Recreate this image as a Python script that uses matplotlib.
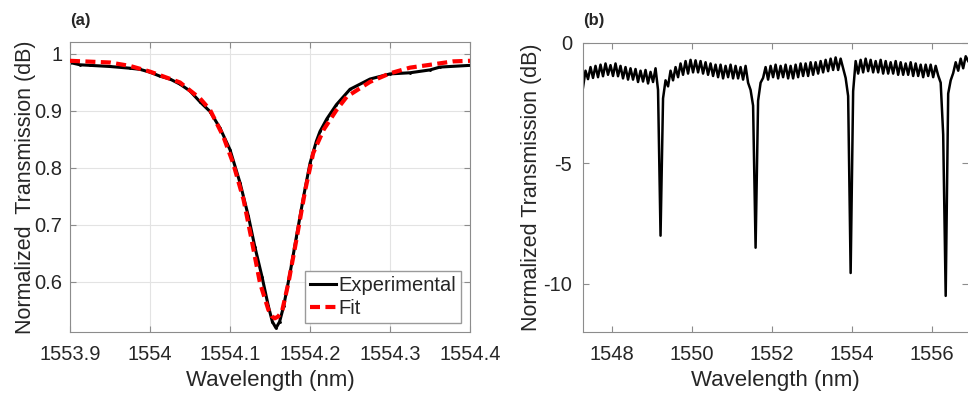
import numpy as np
import matplotlib
matplotlib.use("Agg")
import matplotlib.pyplot as plt
from matplotlib.ticker import FixedLocator, FuncFormatter

# ---------------- Panel (a) data ----------------
exp_wl = [1553.900, 1553.9125, 1553.925, 1553.950, 1553.975, 1553.9875, 1554.000,
          1554.0125, 1554.025, 1554.0375, 1554.050, 1554.0625, 1554.075, 1554.0875,
          1554.100, 1554.1125, 1554.123, 1554.131, 1554.140, 1554.148, 1554.153,
          1554.1575, 1554.162, 1554.167, 1554.175, 1554.183, 1554.192, 1554.200,
          1554.208, 1554.2125, 1554.221, 1554.233, 1554.250, 1554.275, 1554.300,
          1554.325, 1554.350, 1554.3625, 1554.400]
exp_T = [0.985, 0.981, 0.980, 0.978, 0.975, 0.973, 0.968,
         0.961, 0.956, 0.947, 0.935, 0.916, 0.899, 0.870,
         0.832, 0.774, 0.715, 0.662, 0.609, 0.557, 0.530,
         0.519, 0.530, 0.557, 0.615, 0.679, 0.750, 0.808,
         0.847, 0.864, 0.886, 0.911, 0.938, 0.956, 0.965,
         0.967, 0.972, 0.977, 0.980]

fit_wl = [1553.900, 1553.950, 1553.975, 1554.000, 1554.0375, 1554.0625, 1554.075,
          1554.0917, 1554.104, 1554.117, 1554.127, 1554.1375, 1554.148, 1554.152,
          1554.156, 1554.160, 1554.165, 1554.173, 1554.183, 1554.194, 1554.204,
          1554.217, 1554.2333, 1554.246, 1554.275, 1554.300, 1554.325, 1554.350,
          1554.379, 1554.400]
fit_T = [0.988, 0.985, 0.979, 0.969, 0.950, 0.922, 0.902,
         0.855, 0.808, 0.744, 0.674, 0.598, 0.551, 0.540,
         0.536, 0.539, 0.548, 0.598, 0.674, 0.761, 0.826,
         0.867, 0.902, 0.925, 0.951, 0.966, 0.976, 0.981,
         0.987, 0.988]

a_xticks = [1553.9, 1554.0, 1554.1, 1554.2, 1554.3, 1554.4]
a_xticklabels = ["1553.9", "1554", "1554.1", "1554.2", "1554.3", "1554.4"]
a_yticks = [0.6, 0.7, 0.8, 0.9, 1.0]
a_yticklabels = ["0.6", "0.7", "0.8", "0.9", "1"]

# ---------------- Panel (b) data ----------------
b_start, b_stop, b_count = 1547.28, 1556.905, 155
b_T = [
    -1.85, -1.15, -1.50, -1.00, -1.45, -0.95, -1.42, -0.90, -1.38, -0.85,
    -1.32, -0.92, -1.37, -0.85, -1.38, -0.95, -1.47, -1.00, -1.52, -1.05,
    -1.52, -1.08, -1.62, -1.15, -1.60, -1.12, -1.68, -1.20, -1.62, -1.05,
    -1.95, -8.00, -2.30, -1.55, -1.80, -1.15, -1.55, -1.00, -1.42, -0.85,
    -1.32, -0.75, -1.27, -0.70, -1.22, -0.72, -1.22, -0.75, -1.27, -0.80,
    -1.32, -0.85, -1.37, -0.90, -1.42, -0.90, -1.47, -0.95, -1.42, -0.90,
    -1.47, -0.95, -1.47, -1.00, -1.52, -0.95, -1.65, -1.95, -2.60, -8.50,
    -2.40, -1.65, -1.45, -1.00, -1.52, -0.95, -1.42, -0.90, -1.47, -0.95,
    -1.42, -0.90, -1.47, -0.95, -1.47, -0.90, -1.42, -0.85, -1.37, -0.85,
    -1.37, -0.80, -1.32, -0.80, -1.27, -0.75, -1.22, -0.70, -1.17, -0.65,
    -1.12, -0.60, -1.12, -0.65, -1.05, -1.45, -2.20, -9.55, -2.00, -0.75,
    -1.27, -0.70, -1.22, -0.65, -1.17, -0.70, -1.22, -0.75, -1.22, -0.70,
    -1.27, -0.75, -1.27, -0.80, -1.27, -0.75, -1.32, -0.80, -1.32, -0.85,
    -1.32, -0.80, -1.37, -0.85, -1.37, -0.90, -1.42, -0.90, -1.37, -0.90,
    -1.42, -0.95, -1.35, -1.65, -3.80, -10.50, -2.10, -1.55, -1.25, -0.80,
    -1.15, -0.65, -1.05, -0.55, -0.75,
]
b_xticks = [1548, 1550, 1552, 1554, 1556]
b_yticks = [0, -5, -10]

# ---------------- Figure ----------------
txt = "#262626"
spine_c = "#8c8c8c"
plt.rcParams["font.family"] = ["Liberation Sans", "DejaVu Sans"]

fig = plt.figure(figsize=(9.68, 3.94), dpi=100)

def style(ax, ypad):
    for s in ax.spines.values():
        s.set_color(spine_c)
        s.set_linewidth(0.8)
    ax.tick_params(direction="in", length=4, width=0.8, color=spine_c,
                   labelsize=14.5, labelcolor=txt, top=True, right=True)
    ax.tick_params(axis="x", pad=9)
    ax.tick_params(axis="y", pad=ypad)

# Panel (a)
axa = fig.add_axes([70/968, 1-332/394, 400/968, 290/394])
axa.plot(fit_wl, fit_T, color="red", lw=3, dashes=(2.4, 1.3), zorder=3,
         label="Fit")
axa.plot(exp_wl, exp_T, color="black", lw=2.2, marker=".", markersize=2,
         zorder=2, label="Experimental")
axa.set_xlim(1553.9, 1554.4)
axa.set_ylim(0.512, 1.021)
axa.xaxis.set_major_locator(FixedLocator(a_xticks))
axa.set_xticklabels(a_xticklabels)
axa.yaxis.set_major_locator(FixedLocator(a_yticks))
axa.set_yticklabels(a_yticklabels)
axa.grid(True, color="#e3e3e3", lw=0.8)
axa.set_axisbelow(True)
style(axa, 5.5)
axa.set_xlabel("Wavelength (nm)", fontsize=16, color=txt, labelpad=5)
axa.set_ylabel("Normalized  Transmission (dB)", fontsize=15.5, color=txt,
               labelpad=-1.5)
h, l = axa.get_legend_handles_labels()
leg = axa.legend(h[::-1], l[::-1], loc="lower right", fontsize=14.5,
                 handlelength=1.3, handletextpad=0.1, borderpad=0.25,
                 labelspacing=0.2, borderaxespad=0.45, fancybox=False,
                 framealpha=1, edgecolor="#9a9a9a")
for t in leg.get_texts():
    t.set_color(txt)
axa.text(70/968, 1-21/394, "(a)", transform=fig.transFigure, fontsize=12,
         fontweight="bold", color=txt, ha="left", va="center")

# Panel (b)
b_wl = np.linspace(b_start, b_stop, b_count)
axb = fig.add_axes([583/968, 1-332/394, 385/968, 289/394])
axb.plot(b_wl, b_T, color="black", lw=1.8)
axb.set_xlim(1547.28, 1556.9)
axb.set_ylim(-12, 0)
axb.xaxis.set_major_locator(FixedLocator(b_xticks))
axb.yaxis.set_major_locator(FixedLocator(b_yticks))
axb.yaxis.set_major_formatter(FuncFormatter(lambda v, p: f"{v:g}"))
style(axb, 8)
axb.spines["right"].set_visible(False)
axb.set_xlabel("Wavelength (nm)", fontsize=16, color=txt, labelpad=5)
axb.set_ylabel("Normalized Transmission (dB)", fontsize=15.5, color=txt,
               labelpad=0.5)
axb.text(583/968, 1-21/394, "(b)", transform=fig.transFigure, fontsize=12,
         fontweight="bold", color=txt, ha="left", va="center")

fig.savefig("out.png", dpi=100)
